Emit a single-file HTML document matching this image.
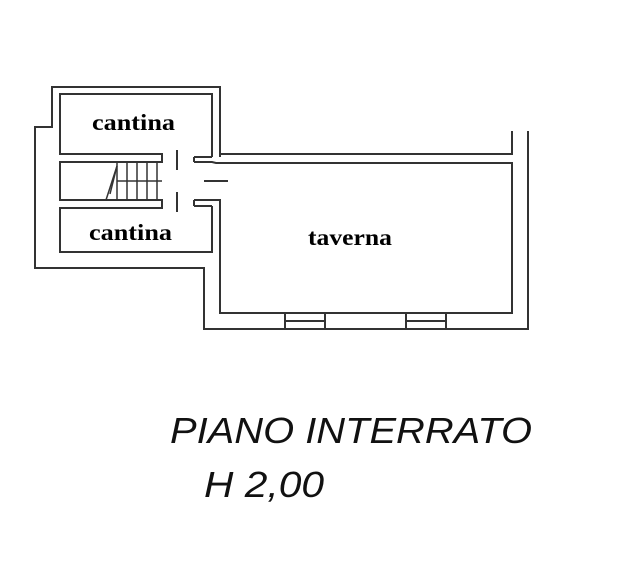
<!DOCTYPE html>
<html><head><meta charset="utf-8"><style>
html,body{margin:0;padding:0;background:#fff;}
svg{display:block;}
</style></head><body>
<svg width="627" height="579" viewBox="0 0 627 579" xmlns="http://www.w3.org/2000/svg">
<g stroke="#333" stroke-width="2" fill="none">
<polyline points="220,157 220,87 52,87 52,127 35,127 35,268 204,268 204,329 528,329 528,131"/>
<polyline points="220,154 512,154 512,131"/>
<polyline points="194,162 212,162 216,163 512,163 512,313 220,313 220,200 194,200"/>
<polyline points="194,157 194,162"/>
<polyline points="194,200 194,206"/>
<polyline points="212,157 212,94 60,94 60,154 162,154 162,162 60,162 60,200 162,200 162,208 60,208 60,252 212,252 212,206"/>
<line x1="194" y1="157" x2="212" y2="157"/>
<line x1="194" y1="206" x2="212" y2="206"/>
<line x1="177" y1="150" x2="177" y2="170"/>
<line x1="177" y1="192" x2="177" y2="212"/>
<line x1="204" y1="181" x2="228" y2="181"/>
<line x1="285" y1="313" x2="285" y2="329"/>
<line x1="325" y1="313" x2="325" y2="329"/>
<line x1="285" y1="321" x2="325" y2="321"/>
<line x1="406" y1="313" x2="406" y2="329"/>
<line x1="446" y1="313" x2="446" y2="329"/>
<line x1="406" y1="321" x2="446" y2="321"/>
</g>
<g stroke="#333" stroke-width="1.5" fill="none">
<line x1="117" y1="162" x2="117" y2="200"/>
<line x1="127" y1="162" x2="127" y2="200"/>
<line x1="137" y1="162" x2="137" y2="200"/>
<line x1="147" y1="162" x2="147" y2="200"/>
<line x1="157" y1="162" x2="157" y2="200"/>
<line x1="117" y1="181" x2="162" y2="181"/>
<line x1="106" y1="200" x2="117" y2="166"/>
<line x1="110" y1="194" x2="117" y2="166"/>
</g>
<g font-family="Liberation Serif, serif" font-weight="bold" font-size="23" fill="#000">
<text x="92" y="130" textLength="83" lengthAdjust="spacingAndGlyphs">cantina</text>
<text x="89" y="240" textLength="83" lengthAdjust="spacingAndGlyphs">cantina</text>
<text x="308" y="245" textLength="84" lengthAdjust="spacingAndGlyphs">taverna</text>
</g>
<g font-family="Liberation Sans, sans-serif" font-style="italic" font-size="36" fill="#111">
<text x="170" y="443" textLength="362" lengthAdjust="spacingAndGlyphs">PIANO INTERRATO</text>
<text x="204" y="497" textLength="120" lengthAdjust="spacingAndGlyphs">H 2,00</text>
</g>
</svg>
</body></html>
